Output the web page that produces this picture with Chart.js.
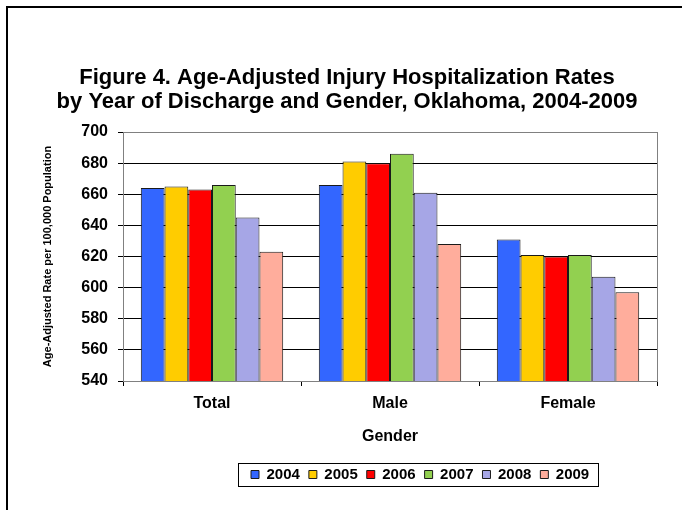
<!DOCTYPE html>
<html>
<head>
<meta charset="utf-8">
<script src="https://cdn.jsdelivr.net/npm/chart.js@4"></script>
<style>
  html, body { margin: 0; padding: 0; background: #fff; }
  #wrap { width: 682px; height: 510px; }
</style>
</head>
<body>
<div id="wrap"><canvas id="injuryChart" width="682" height="510"></canvas></div>
<script>
// ===================== Data =====================
const genders = ['Total', 'Male', 'Female'];
const years = ['2004', '2005', '2006', '2007', '2008', '2009'];
const rate2004 = [664, 666, 631];
const rate2005 = [665, 681, 621];
const rate2006 = [663, 680, 620];
const rate2007 = [666, 686, 621];
const rate2008 = [645, 661, 607];
const rate2009 = [623, 628, 597];
const yMin = 540;
const yMax = 700;
const yStep = 20;

const seriesValues = [rate2004, rate2005, rate2006, rate2007, rate2008, rate2009];
const seriesColors = ['#3366FF', '#FFCC00', '#FF0000', '#92D050', '#A6A6E6', '#FFAD9C'];

const FONT = "'Liberation Sans', Arial, sans-serif";
const LEGEND_START_X = 251; // where the first legend square sits in the original
const LEGEND_PAD = 9;
const LEGEND_FONT = 15;

// start x of the first legend item, same formula the legend uses for 'center'
function legendStartX(legend) {
  return (legend.left + LEGEND_PAD + legend.right - legend.lineWidths[0]) / 2;
}

// ===================== Frame plugin =====================
// outer figure border, plot area border and the box round the legend
const framePlugin = {
  id: 'frame',
  beforeDraw(chart) {
    const ctx = chart.ctx;
    // the legend is not centred in the original, move it right
    const legend = chart.legend;
    if (legend && legend.lineWidths && !legend._shifted) {
      const d = LEGEND_START_X - legendStartX(legend);
      legend.left += d;
      legend.right += d;
      legend._shifted = true;
    }
    ctx.save();
    ctx.fillStyle = '#fff';
    ctx.fillRect(0, 0, chart.width, chart.height);
    ctx.strokeStyle = '#000';
    ctx.lineWidth = 2;
    ctx.beginPath();
    ctx.moveTo(7, chart.height + 2);
    ctx.lineTo(7, 7);
    ctx.lineTo(chart.width + 2, 7);
    ctx.stroke();
    ctx.restore();
  },
  beforeDatasetsDraw(chart) {
    const a = chart.chartArea;
    const ctx = chart.ctx;
    ctx.save();
    ctx.strokeStyle = '#808080';
    ctx.lineWidth = 1;
    ctx.strokeRect(Math.round(a.left) + 0.5, Math.round(a.top) + 0.5,
      Math.round(a.right - a.left), Math.round(a.bottom - a.top));
    ctx.restore();
  },
  afterDraw(chart) {
    const legend = chart.legend;
    const x0 = legendStartX(legend);
    const x1 = x0 + legend.lineWidths[0] - LEGEND_PAD;
    const yc = legend.top + LEGEND_PAD + LEGEND_FONT / 2;
    const ctx = chart.ctx;
    ctx.save();
    ctx.strokeStyle = '#000';
    ctx.lineWidth = 1;
    ctx.strokeRect(Math.round(x0 - 13) + 0.5, Math.round(yc - 12) + 0.5,
      Math.round(x1 - x0 + 22), 23);
    ctx.restore();
  }
};

// ===================== Chart =====================
const ctx = document.getElementById('injuryChart').getContext('2d');
new Chart(ctx, {
  type: 'bar',
  data: {
    labels: genders,
    datasets: years.map((year, i) => ({
      label: year,
      data: seriesValues[i],
      backgroundColor: seriesColors[i],
      borderColor: '#1a1a1a',
      borderWidth: 1,
      borderSkipped: false
    }))
  },
  options: {
    responsive: false,
    animation: false,
    events: [],
    datasets: {
      bar: { categoryPercentage: 0.8, barPercentage: 1.0 }
    },
    layout: {
      padding: { left: 37, right: 25, top: 0, bottom: 18 }
    },
    scales: {
      x: {
        grid: {
          offset: true,
          drawOnChartArea: false,
          color: '#000',
          tickLength: 5
        },
        border: { color: '#000', width: 1 },
        ticks: {
          color: '#000',
          padding: 8,
          font: { family: FONT, size: 16, weight: 'bold' }
        },
        title: {
          display: true,
          text: 'Gender',
          color: '#000',
          padding: { top: 4, bottom: 12 },
          font: { family: FONT, size: 16, weight: 'bold' }
        },
        afterFit(scale) { scale.height = 77; }
      },
      y: {
        min: yMin,
        max: yMax,
        grid: {
          color: '#000',
          tickLength: 5
        },
        border: { color: '#000', width: 1 },
        ticks: {
          stepSize: yStep,
          color: '#000',
          padding: 10,
          font: { family: FONT, size: 16, weight: 'bold' }
        },
        title: {
          display: true,
          text: 'Age-Adjusted Rate per 100,000 Population',
          color: '#000',
          padding: { top: 4, bottom: 4 },
          font: { family: FONT, size: 11, weight: 'bold' }
        },
        afterFit(scale) { scale.width = 86; }
      }
    },
    plugins: {
      title: {
        display: true,
        text: ['Figure 4. Age-Adjusted Injury Hospitalization Rates',
               'by Year of Discharge and Gender, Oklahoma, 2004-2009'],
        color: '#000',
        padding: { top: 66, bottom: 18 },
        font: { family: FONT, size: 22, weight: 'bold', lineHeight: 24 / 22 }
      },
      legend: {
        position: 'bottom',
        labels: {
          color: '#000',
          boxWidth: 8,
          boxHeight: 8,
          padding: LEGEND_PAD,
          font: { family: FONT, size: LEGEND_FONT, weight: 'bold' }
        }
      },
      tooltip: { enabled: false }
    }
  },
  plugins: [framePlugin]
});
</script>
</body>
</html>
